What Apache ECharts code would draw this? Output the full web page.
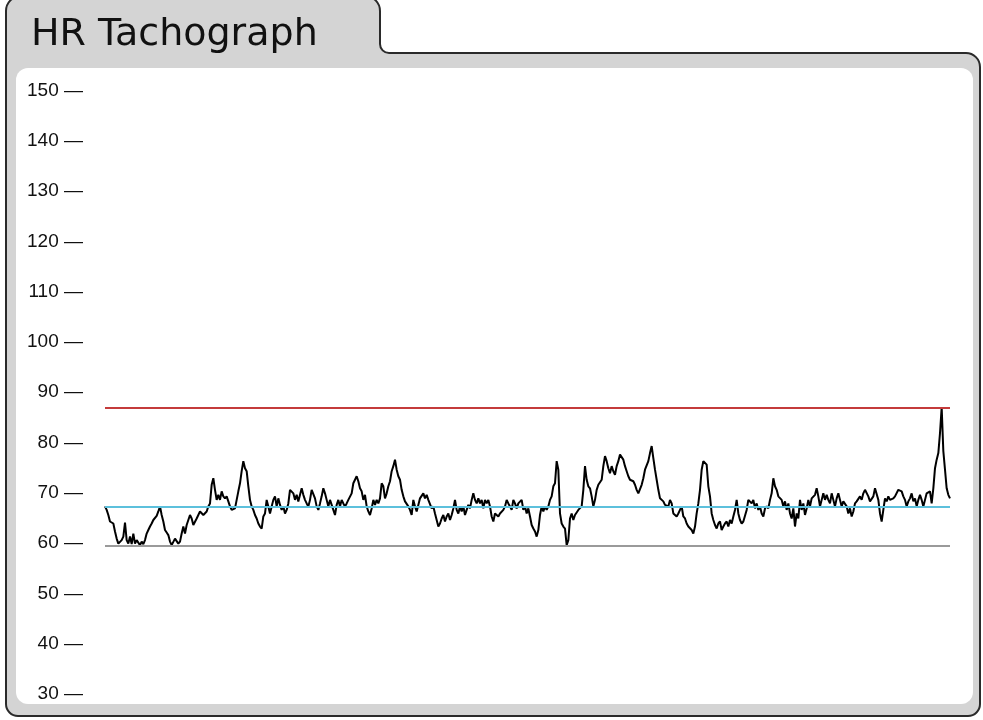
<!DOCTYPE html>
<html><head><meta charset="utf-8">
<script src="https://cdn.jsdelivr.net/npm/echarts@6/dist/echarts.min.js"></script>
<style>html,body{margin:0;padding:0;background:#fff;}#chart{width:983px;height:720px;}</style>
</head><body><div id="chart"></div>
<script>
const titleText = 'HR Tachograph';
const yMin = 30, yMax = 150, yStep = 10;
const maxHR = 87.0, avgHR = 67.3, minHR = 59.5;

const hrPart1 = [
67.3,66.6,65.6,64.3,64.1,63.9,62.3,60.9,59.9,59.6,
60.6,61.3,64.1,60.6,59.9,61.3,59.8,61.9,59.9,60.6,
60.1,59.6,60.3,59.8,60.6,61.9,62.6,63.3,63.9,64.6,
64.9,65.4,66.3,67.3,65.6,64.3,62.6,62.1,61.6,60.3,
59.6,59.8,60.9,60.6,59.9,60.3,61.9,63.3,61.9,63.6,
64.6,65.6,64.9,63.6,63.9,64.9,65.6,66.3,66.6,65.6,
65.3,66.3,67.3,67.9,71.6,72.9,70.6,68.6,69.6,68.6,
70.3,69.3,68.9,69.3,68.3,67.3,66.6,66.3,66.9,68.6,
70.3,71.9,74.3,76.3,74.9,74.3,71.3,68.6,67.3,66.6,
65.6,64.9,63.9,63.3,62.9,65.3,65.9,68.6,67.3];

const hrPart2 = [
65.9,67.3,68.6,69.3,67.3,68.9,67.6,66.6,67.3,65.9,
66.6,67.9,70.6,70.9,69.9,68.6,69.6,68.3,68.6,70.9,
69.6,68.6,67.9,67.3,68.6,70.6,70.9,68.9,67.3,66.6,
67.9,69.3,70.9,69.9,68.6,67.3,68.6,68.9,66.6,65.6,
67.6,68.6,67.3,68.6,67.9,67.3,67.9,68.6,68.9,69.9,
71.9,72.6,73.3,72.3,70.9,70.3,68.6,69.6,67.3,66.3,
65.6,66.9,68.6,67.6,68.6,67.9,68.9,71.9,71.3,68.9,
69.9,71.3,72.3,74.3,75.3,76.6,74.6,73.3,72.6,70.6,
69.3,68.3,68.6,67.3,66.6,65.6,68.6,67.3,66.3,67.6,
68.9,68.6,69.9,68.9,69.6,68.6,68.3,66.9,67.3,65.9,
64.6,63.3];

const hrPart3 = [
63.9,64.9,65.6,64.3,65.3,65.9,64.6,65.6,66.9,68.6,
66.6,65.9,67.3,66.3,67.3,65.6,66.6,67.6,66.9,68.6,
69.9,68.6,67.9,68.9,67.9,68.6,66.9,68.6,67.9,68.6,
67.3,65.3,64.3,65.9,65.6,65.3,65.9,65.6,66.6,67.3,
68.6,67.9,67.3,66.6,68.6,67.9,66.9,67.9,67.6,68.6,
66.6,67.3,65.9,66.9,65.3,63.6,62.9,62.3,61.3,62.6,
65.6,67.3,66.3,67.3,66.6,67.3,68.6,69.3,71.3,71.9,
76.3,74.6,65.9,63.9,63.3,62.9,59.6,60.6,64.9,65.9,
64.6,65.6,65.9,66.6,66.9,67.3,70.6,75.3,72.6,71.3,
70.9,69.3,67.3,68.6,70.6,71.6,71.9,72.6,75.3,77.3,
76.3,74.9];

const hrPart4 = [
73.9,75.3,74.3,73.6,75.3,76.3,77.6,77.3,76.6,75.3,
74.3,73.3,72.6,72.9,72.3,71.6,70.6,69.9,69.9,71.6,
72.9,74.6,74.9,76.3,77.9,79.3,76.9,74.6,72.6,70.6,
68.9,68.6,68.3,67.6,67.9,67.3,68.6,67.9,65.9,65.6,
65.3,65.9,66.6,67.3,65.3,64.9,63.9,63.3,63.6,62.6,
61.9,63.3,65.9,67.9,70.6,74.6,76.3,76.3,75.6,71.3,
69.3,65.9,64.6,63.6,62.9,63.9,64.3,62.6,63.3,63.9,
64.3,63.3,64.6,63.9,65.3,66.6,68.6,65.9,64.6,63.9,
64.3,64.3,66.6,68.6,68.9,67.9,68.6,66.9,67.9,66.6,
67.3,65.9,65.3,66.9,67.3,66.9,68.6,69.9,72.9,71.3,
70.6,69.3];

const hrPart5 = [
69.3,68.6,67.3,68.3,66.6,67.9,65.9,64.9,66.9,63.3,
65.9,64.9,68.6,66.6,67.9,65.6,66.9,68.6,67.3,68.9,
68.6,69.6,70.9,69.3,67.3,68.6,69.9,68.6,69.6,68.6,
67.9,69.9,68.6,67.3,68.9,69.9,68.6,67.3,68.3,68.6,
67.3,65.9,66.9,65.3,66.3,67.9,68.3,68.6,69.3,68.6,
69.9,70.6,70.9,69.3,68.3,68.6,69.3,70.9,70.6,68.6,
65.9,64.3,66.6,68.9,68.3,69.3,68.6,68.3,68.9,69.3,
69.6,70.6,70.9,70.3,69.3,68.6,67.3,68.3,68.9,69.9,
68.3,68.9,67.3,68.6,69.6,68.6,67.3,68.6,69.9,69.6,
70.3,67.9,70.9,74.9,76.6,77.9,81.9,87.0,78.3,74.6,
70.9,69.6,68.9];

const hrValues = [].concat(hrPart1, hrPart2, hrPart3, hrPart4, hrPart5);
const sampleIndex = hrValues.map((_, i) => i);

const panelFill = '#d4d4d4';
const borderColor = '#2a2a2a';

const chart = echarts.init(document.getElementById('chart'), null, {renderer: 'canvas'});
chart.setOption({
  animation: false,
  backgroundColor: '#ffffff',
  title: {
    text: titleText,
    left: 26, top: 11,
    textStyle: {fontFamily: 'DejaVu Sans', fontSize: 38, fontWeight: 'normal', color: '#111'}
  },
  graphic: [
    {type: 'rect', z: -5, z2: 1, shape: {x: 6, y: 53, width: 974, height: 663, r: [0, 14, 12, 12]},
      style: {fill: panelFill, stroke: borderColor, lineWidth: 2}},
    {type: 'rect', z: -5, z2: 2, shape: {x: 6, y: -4, width: 374, height: 48, r: [15, 15, 0, 0]},
      style: {fill: panelFill, stroke: borderColor, lineWidth: 2}},
    {type: 'rect', z: -5, z2: 3, shape: {x: 7, y: 42, width: 372, height: 16},
      style: {fill: panelFill}},
    {type: 'line', z: -5, z2: 3, shape: {x1: 6, y1: 36, x2: 6, y2: 60},
      style: {stroke: borderColor, lineWidth: 2}},
    {type: 'rect', z: -5, z2: 4, shape: {x: 379, y: 44, width: 10, height: 11},
      style: {fill: panelFill}},
    {type: 'sector', z: -5, z2: 5, shape: {cx: 389, cy: 44, r0: 0, r: 9, startAngle: Math.PI / 2, endAngle: Math.PI, clockwise: true},
      style: {fill: '#ffffff'}},
    {type: 'arc', z: -5, z2: 6, shape: {cx: 389, cy: 44, r: 9, startAngle: Math.PI / 2, endAngle: Math.PI, clockwise: true},
      style: {stroke: borderColor, lineWidth: 2, fill: null}},
    {type: 'rect', z: -5, z2: 7, shape: {x: 16, y: 68, width: 957, height: 636, r: 12},
      style: {fill: '#ffffff'}}
  ],
  grid: {left: 105, right: 33, top: 90.5, bottom: 26},
  xAxis: {type: 'category', data: sampleIndex, boundaryGap: false, show: false},
  yAxis: {
    type: 'value', min: yMin, max: yMax, interval: yStep,
    axisLine: {show: false}, axisTick: {show: false}, splitLine: {show: false},
    axisLabel: {formatter: v => v + ' —', fontFamily: 'Liberation Sans', fontSize: 19, color: '#111', margin: 22}
  },
  series: [{
    type: 'line', data: hrValues, showSymbol: false, symbol: 'none',
    lineStyle: {color: '#000', width: 2},
    markLine: {
      silent: true, symbol: 'none', label: {show: false}, animation: false,
      data: [
        {yAxis: maxHR, lineStyle: {color: '#c43b3b', width: 2, type: 'solid'}},
        {yAxis: avgHR, lineStyle: {color: '#5cc0dc', width: 2, type: 'solid'}},
        {yAxis: minHR, lineStyle: {color: '#9a9a9a', width: 2, type: 'solid'}}
      ]
    }
  }]
});
</script></body></html>
